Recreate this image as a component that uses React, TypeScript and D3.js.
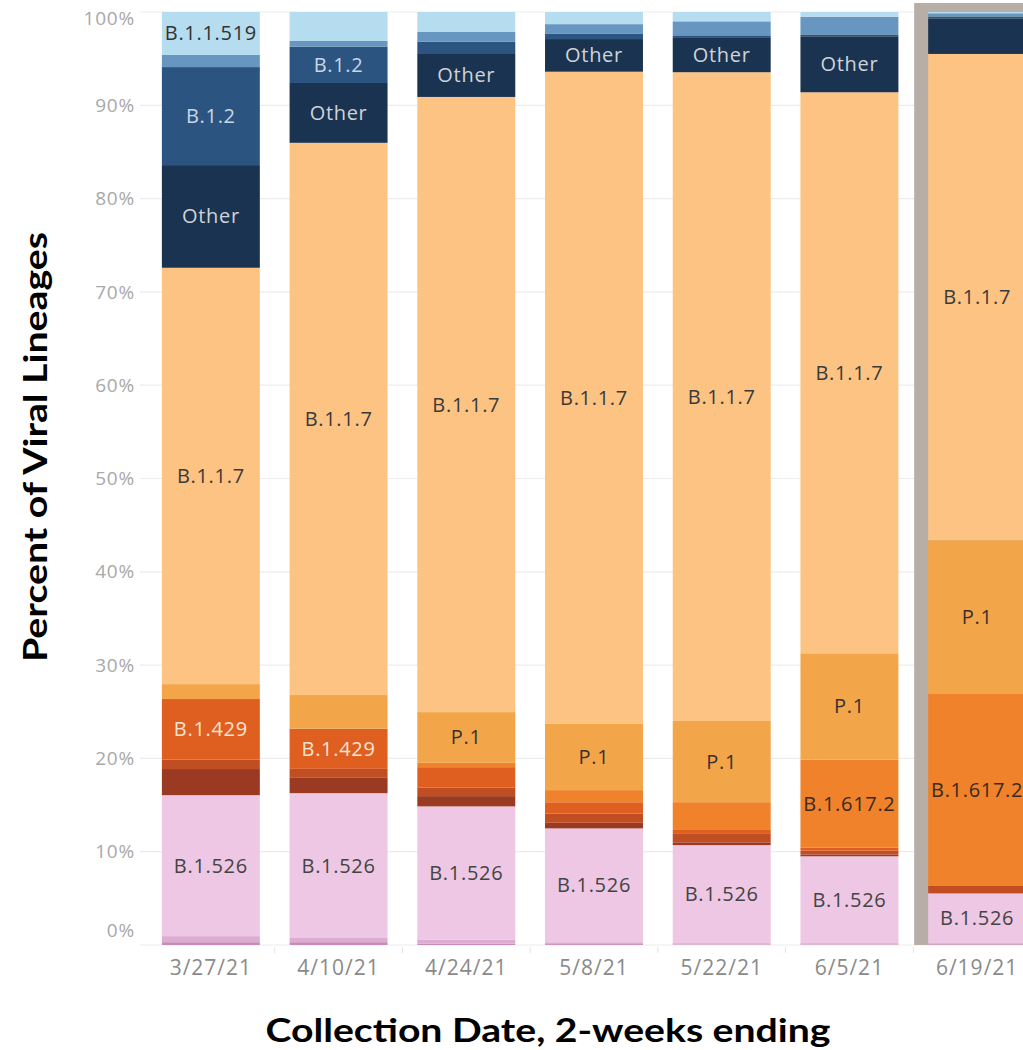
import React from "react";
import * as d3 from "d3";

const dates = ["3/27/21", "4/10/21", "4/24/21", "5/8/21", "5/22/21", "6/5/21", "6/19/21"];

// lineages listed bottom to top
const lineages = [
  "B.1.525", "B.1.526.1", "B.1.526", "B.1.351", "B.1.427", "B.1.429",
  "B.1.617.2", "P.1", "B.1.1.7", "Other", "B.1.2", "P.2", "B.1.1.519",
];

const vB1525 = [0.3, 0.3, 0.15, 0.1, 0.05, 0.05, 0.05];
const vB15261 = [0.65, 0.45, 0.4, 0.2, 0.15, 0.15, 0.1];
const vB1526 = [15.1, 15.5, 14.3, 12.2, 10.5, 9.3, 5.4];
const vB1351 = [2.8, 1.7, 1.1, 0.6, 0.3, 0.2, 0];
const vB1427 = [1.0, 0.9, 0.9, 1.0, 0.9, 0.4, 0.8];
const vB1429 = [6.5, 4.3, 2.2, 1.2, 0.5, 0.35, 0];
const vB16172 = [0, 0, 0.5, 1.3, 2.9, 9.4, 20.6];
const vP1 = [1.6, 3.6, 5.4, 7.1, 8.7, 11.4, 16.5];
const vB117 = [44.6, 59.1, 65.9, 69.9, 69.5, 60.1, 52.2];
const vOther = [11.0, 6.4, 4.6, 3.5, 3.75, 6.0, 3.8];
const vB12 = [10.5, 3.9, 1.3, 0.6, 0.2, 0.2, 0.2];
const vP2 = [1.3, 0.6, 1.1, 1.0, 1.5, 1.9, 0.35];
const vB11519 = [4.6, 3.1, 2.1, 1.3, 1.0, 0.5, 0.15];

const seriesValues = [vB1525, vB15261, vB1526, vB1351, vB1427, vB1429, vB16172, vP1, vB117, vOther, vB12, vP2, vB11519];

const colors = [
  "#c98bb8", "#dcadd0", "#edc7e3", "#9b3a22", "#c04e22", "#df5f20",
  "#ef822a", "#f2a649", "#fdc383", "#1a3350", "#2b5580", "#6797c1", "#b6dcef",
];
const labelColors: Record<string, string> = {
  "B.1.526": "#444", "B.1.429": "#f7e3d3", "B.1.617.2": "#3a2a20", "P.1": "#3a3030",
  "B.1.1.7": "#3a3a3a", "Other": "#cfd3d8", "B.1.2": "#c9d6e6", "B.1.1.519": "#333",
};

// segments that carry a text label in the original
const labeled: [string, string][] = [
  ["3/27/21", "B.1.1.519"], ["3/27/21", "B.1.2"], ["3/27/21", "Other"], ["3/27/21", "B.1.1.7"], ["3/27/21", "B.1.429"], ["3/27/21", "B.1.526"],
  ["4/10/21", "B.1.2"], ["4/10/21", "Other"], ["4/10/21", "B.1.1.7"], ["4/10/21", "B.1.429"], ["4/10/21", "B.1.526"],
  ["4/24/21", "Other"], ["4/24/21", "B.1.1.7"], ["4/24/21", "P.1"], ["4/24/21", "B.1.526"],
  ["5/8/21", "Other"], ["5/8/21", "B.1.1.7"], ["5/8/21", "P.1"], ["5/8/21", "B.1.526"],
  ["5/22/21", "Other"], ["5/22/21", "B.1.1.7"], ["5/22/21", "P.1"], ["5/22/21", "B.1.526"],
  ["6/5/21", "Other"], ["6/5/21", "B.1.1.7"], ["6/5/21", "P.1"], ["6/5/21", "B.1.617.2"], ["6/5/21", "B.1.526"],
  ["6/19/21", "B.1.1.7"], ["6/19/21", "P.1"], ["6/19/21", "B.1.617.2"], ["6/19/21", "B.1.526"],
];

const yTicks = [0, 0.1, 0.2, 0.3, 0.4, 0.5, 0.6, 0.7, 0.8, 0.9, 1];
const highlightedDate = "6/19/21";

export default function App() {
  const W = 1023;
  const H = 1050;
  const rows = dates.map((d, i) => {
    const r: Record<string, any> = { date: d };
    lineages.forEach((l, j) => (r[l] = seriesValues[j][i]));
    return r;
  });
  const stack = d3.stack<any>().keys(lineages).offset(d3.stackOffsetExpand);
  const series = stack(rows);

  const x = d3.scaleBand<string>().domain(dates).range([147, 1041]).paddingInner(0.233).paddingOuter(0.1165);
  const y = d3.scaleLinear().domain([0, 1]).range([945, 12]);
  const fmt = d3.format(".0%");
  const isLabeled = (d: string, l: string) => labeled.some(([a, b]) => a === d && b === l);
  const font = "'Open Sans', 'DejaVu Sans', sans-serif";
  const bw = x.bandwidth();
  const step = x.step();

  return (
    <svg width={W} height={H} style={{ position: "absolute", left: 0, top: 0, display: "block", background: "#fff" }}>
      {/* gridlines */}
      {yTicks.map((t) => (
        <line key={"g" + t} x1={140} x2={W} y1={y(t)} y2={y(t)} stroke="#ececec" strokeWidth={1.2} />
      ))}
      {/* y tick labels */}
      {yTicks.map((t, i) => {
        let yy = y(t);
        if (i === yTicks.length - 1) yy += 6;
        if (i === 0) yy -= 15;
        return (
          <text key={"yl" + t} x={135} y={yy} dy="0.35em" textAnchor="end" fontFamily={font} fontSize={19} letterSpacing={0.8} fill="#a8a8a8">
            {fmt(t)}
          </text>
        );
      })}
      {/* x band separators */}
      {dates.slice(1).map((d) => (
        <line key={"s" + d} x1={(x(d) as number) - (step - bw) / 2} x2={(x(d) as number) - (step - bw) / 2} y1={947} y2={953} stroke="#e2e2e2" strokeWidth={1} />
      ))}
      {/* highlight frame */}
      <rect x={(x(highlightedDate) as number) - 14} y={y(1) - 9} width={bw + 28} height={y(0) - y(1) + 9} fill="#b8aea8" />
      {/* bars */}
      {series.map((s, j) => (
        <g key={s.key} fill={colors[j]}>
          {s.map((seg, i) => {
            const h = y(seg[0]) - y(seg[1]);
            if (h <= 0) return null;
            return <rect key={dates[i]} x={x(dates[i])} y={y(seg[1])} width={bw} height={h} />;
          })}
        </g>
      ))}
      {/* segment labels */}
      {series.map((s) =>
        s.map((seg, i) => {
          if (!isLabeled(dates[i], s.key)) return null;
          const cy = (y(seg[0]) + y(seg[1])) / 2;
          return (
            <text key={s.key + dates[i]} x={(x(dates[i]) as number) + bw / 2} y={cy} dy="0.35em" textAnchor="middle"
              fontFamily={font} fontSize={20} letterSpacing={0.7} fill={labelColors[s.key]}>
              {s.key}
            </text>
          );
        })
      )}
      {/* x tick labels */}
      {dates.map((d) => (
        <text key={"xl" + d} x={(x(d) as number) + bw / 2} y={968} dy="0.35em" textAnchor="middle" fontFamily={font} fontSize={21} letterSpacing={1} fill="#8a8a8a">
          {d}
        </text>
      ))}
      {/* axis titles */}
      <text transform="translate(47,447) rotate(-90)" textAnchor="middle" fontFamily="Lato, 'Open Sans', sans-serif" fontWeight="bold" fontSize={33} fill="#000"
        textLength={430} lengthAdjust="spacingAndGlyphs">
        Percent of Viral Lineages
      </text>
      <text x={548} y={1042} textAnchor="middle" fontFamily="Lato, 'Open Sans', sans-serif" fontWeight="bold" fontSize={33} fill="#000"
        textLength={565} lengthAdjust="spacingAndGlyphs">
        Collection Date, 2-weeks ending
      </text>
    </svg>
  );
}
